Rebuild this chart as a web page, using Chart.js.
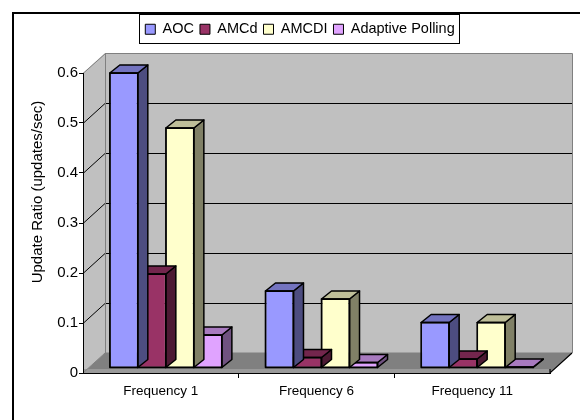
<!DOCTYPE html>
<html>
<head>
<meta charset="utf-8">
<script src="https://cdn.jsdelivr.net/npm/chart.js@4.4.1/dist/chart.umd.min.js"></script>
<style>
  html, body { margin: 0; padding: 0; background: #ffffff; }
  #wrap { width: 580px; height: 420px; position: relative; }
</style>
</head>
<body>
<div id="wrap"><canvas id="chart" width="580" height="420"></canvas></div>
<script>
// ---- data ----
const categories = ['Frequency 1', 'Frequency 6', 'Frequency 11'];
const seriesNames = ['AOC', 'AMCd', 'AMCDI', 'Adaptive Polling'];
const aocValues = [0.59, 0.154, 0.091];
const amcdValues = [0.188, 0.021, 0.018];
const amcdiValues = [0.48, 0.138, 0.091];
const adaptiveValues = [0.066, 0.011, 0.002];
const yTickValues = [0, 0.1, 0.2, 0.3, 0.4, 0.5, 0.6];
const yTitle = 'Update Ratio (updates/sec)';

// ---- styling ----
const FONT = "'Liberation Sans', Arial, sans-serif";
const faces = [
  { front: '#9999FF', top: '#7373BF', side: '#4D4D80' },
  { front: '#993366', top: '#73264D', side: '#4D1A33' },
  { front: '#FFFFCC', top: '#BFBF99', side: '#808066' },
  { front: '#E0A3FF', top: '#A87ABF', side: '#705280' }
];
const WALL = { dx: 22, dy: -20 };      // depth of the walls and floor
const BAR_OFFSET = { dx: 5, dy: -5 };  // bars stand slightly behind the front edge
const BAR_DEPTH = { dx: 10, dy: -8 };  // depth of each column
const LEGEND_SHIFT = 18;               // legend sits right of the canvas centre

function poly(ctx, pts) {
  ctx.beginPath();
  ctx.moveTo(pts[0][0], pts[0][1]);
  for (let i = 1; i < pts.length; i++) ctx.lineTo(pts[i][0], pts[i][1]);
  ctx.closePath();
}

// back wall, side wall and floor of the 3-D plot box
const wallsPlugin = {
  id: 'walls',
  afterLayout(chart) {
    if (chart.legend) {
      chart.legend.left += LEGEND_SHIFT;
      chart.legend.right += LEGEND_SHIFT;
    }
  },
  beforeDraw(chart) {
    const { ctx, chartArea: a, scales: { y } } = chart;
    const L = a.left, R = a.right;
    const y0 = y.getPixelForValue(yTickValues[0]);
    const yTop = y.getPixelForValue(yTickValues[yTickValues.length - 1]);
    const dx = WALL.dx, dy = WALL.dy;
    ctx.save();
    // back wall
    ctx.fillStyle = '#C0C0C0';
    ctx.fillRect(L + dx, yTop + dy, R - L, y0 - yTop);
    // left wall
    poly(ctx, [[L, y0], [L, yTop], [L + dx, yTop + dy], [L + dx, y0 + dy]]);
    ctx.fill();
    // floor
    ctx.fillStyle = '#808080';
    poly(ctx, [[L, y0], [L + dx, y0 + dy], [R + dx, y0 + dy], [R, y0]]);
    ctx.fill();
    // floor front band
    ctx.fillStyle = '#9A9A9A';
    ctx.fillRect(L, y0 - 4, R - L, 4);

    // wall gridlines
    ctx.lineWidth = 1;
    ctx.strokeStyle = '#000000';
    yTickValues.slice(1, -1).forEach(v => {
      const py = Math.round(y.getPixelForValue(v)) + 0.5;
      ctx.beginPath();
      ctx.moveTo(L, py);
      ctx.lineTo(L + dx, py + dy);
      ctx.lineTo(R + dx, py + dy);
      ctx.stroke();
    });

    // wall edges
    ctx.strokeStyle = '#808080';
    ctx.beginPath();
    ctx.moveTo(L, yTop + 0.5);
    ctx.lineTo(L + dx + 0.5, yTop + dy + 0.5);
    ctx.lineTo(R + dx + 0.5, yTop + dy + 0.5);
    ctx.lineTo(R + dx + 0.5, y0 + dy);
    ctx.moveTo(L + dx + 0.5, yTop + dy);
    ctx.lineTo(L + dx + 0.5, y0 + dy);
    ctx.moveTo(L, y0);
    ctx.lineTo(L + dx, y0 + dy);
    ctx.lineTo(R + dx, y0 + dy);
    ctx.stroke();

    // floor outline
    ctx.strokeStyle = '#000000';
    ctx.lineWidth = 1.2;
    ctx.beginPath();
    ctx.moveTo(R, y0 - 4);
    ctx.lineTo(R, y0);
    ctx.lineTo(R + dx, y0 + dy);
    ctx.stroke();
    ctx.restore();
  },
  afterDraw(chart) {
    const { ctx } = chart;
    ctx.save();
    // axis title
    ctx.fillStyle = '#000000';
    ctx.font = '15px ' + FONT;
    ctx.textAlign = 'center';
    ctx.textBaseline = 'middle';
    ctx.translate(38, 192);
    ctx.rotate(-Math.PI / 2);
    ctx.fillText(yTitle, 0, 0);
    ctx.restore();

    // frame around the legend
    const boxes = chart.legend && chart.legend.legendHitBoxes;
    if (boxes && boxes.length) {
      const first = boxes[0], last = boxes[boxes.length - 1];
      const left = Math.round(first.left - 6) + 0.5;
      const right = Math.round(last.left + last.width + 4) + 0.5;
      const top = Math.round(first.top - 8) + 0.5;
      const bottom = Math.round(first.top + first.height + 6) + 0.5;
      ctx.save();
      ctx.strokeStyle = '#000000';
      ctx.lineWidth = 1;
      ctx.strokeRect(left, top, right - left, bottom - top);
      ctx.restore();
    }

    // chart frame
    ctx.save();
    ctx.fillStyle = '#000000';
    ctx.fillRect(12, 12, 2, chart.height - 12);
    ctx.fillRect(12, 12, chart.width - 12, 2);
    ctx.restore();
  }
};

// side and top faces of the columns
const columnsPlugin = {
  id: 'columns3d',
  beforeDatasetDraw(chart) {
    chart.ctx.save();
    chart.ctx.translate(BAR_OFFSET.dx, BAR_OFFSET.dy);
  },
  afterDatasetDraw(chart, args) {
    const { ctx } = chart;
    const f = faces[args.index];
    ctx.lineWidth = 1.5;
    ctx.lineJoin = 'round';
    ctx.strokeStyle = '#000000';
    args.meta.data.forEach(el => {
      const p = el.getProps(['x', 'y', 'base', 'width'], true);
      const l = p.x - p.width / 2, r = p.x + p.width / 2;
      const t = Math.min(p.y, p.base), b = Math.max(p.y, p.base);
      const dx = BAR_DEPTH.dx, dy = BAR_DEPTH.dy;
      ctx.fillStyle = f.side;
      poly(ctx, [[r, t], [r + dx, t + dy], [r + dx, b + dy], [r, b]]);
      ctx.fill();
      ctx.stroke();
      ctx.fillStyle = f.top;
      poly(ctx, [[l, t], [l + dx, t + dy], [r + dx, t + dy], [r, t]]);
      ctx.fill();
      ctx.stroke();
      ctx.strokeRect(l, t, r - l, b - t);
    });
    ctx.restore();
  }
};

const seriesValues = [aocValues, amcdValues, amcdiValues, adaptiveValues];
const datasets = seriesNames.map((name, i) => ({
  label: name,
  data: seriesValues[i],
  xAxisID: 'x',
  yAxisID: 'y',
  backgroundColor: faces[i].front,
  borderColor: '#000000',
  borderWidth: 1,
  borderSkipped: false,
  clip: false,
  categoryPercentage: 0.72,
  barPercentage: 1.0
}));

const PAD_TOP = 16;
const PLOT_TOP = 73;

new Chart(document.getElementById('chart'), {
  type: 'bar',
  data: { labels: categories, datasets },
  options: {
    responsive: false,
    devicePixelRatio: 1,
    animation: false,
    layout: { padding: { left: 14, right: 30, top: PAD_TOP, bottom: 0 } },
    plugins: {
      legend: {
        position: 'top',
        labels: {
          boxWidth: 10,
          boxHeight: 10,
          padding: 6,
          color: '#000000',
          font: { family: FONT, size: 14.5 }
        }
      },
      tooltip: { enabled: false }
    },
    scales: {
      x: {
        position: 'bottom',
        grid: {
          display: true,
          drawOnChartArea: false,
          drawTicks: true,
          tickLength: 5,
          offset: true,
          color: c => (c.type === 'tick' && c.index > 0) ? '#000000' : 'rgba(0,0,0,0)'
        },
        border: { display: true, color: '#000000', width: 1 },
        ticks: {
          color: '#000000',
          font: { family: FONT, size: 13.5 },
          padding: 5,
          maxRotation: 0,
          autoSkip: false
        },
        afterFit: s => { s.height = 47; }
      },
      spacer: {
        type: 'category',
        position: 'top',
        display: true,
        grid: { display: false, drawTicks: false },
        border: { display: false },
        ticks: { display: false },
        afterFit: s => { s.height = PLOT_TOP - PAD_TOP - s.chart.legend.height; }
      },
      y: {
        position: 'left',
        min: 0,
        max: 0.6,
        afterBuildTicks: s => { s.ticks = yTickValues.map(v => ({ value: v })); },
        grid: {
          display: true,
          drawOnChartArea: false,
          drawTicks: true,
          tickLength: 4,
          color: '#000000'
        },
        border: { display: true, color: '#000000', width: 1 },
        ticks: {
          color: '#000000',
          font: { family: FONT, size: 15 },
          padding: 1,
          callback: v => String(v)
        },
        afterFit: s => { s.width = 69; }
      }
    }
  },
  plugins: [wallsPlugin, columnsPlugin]
});
</script>
</body>
</html>
